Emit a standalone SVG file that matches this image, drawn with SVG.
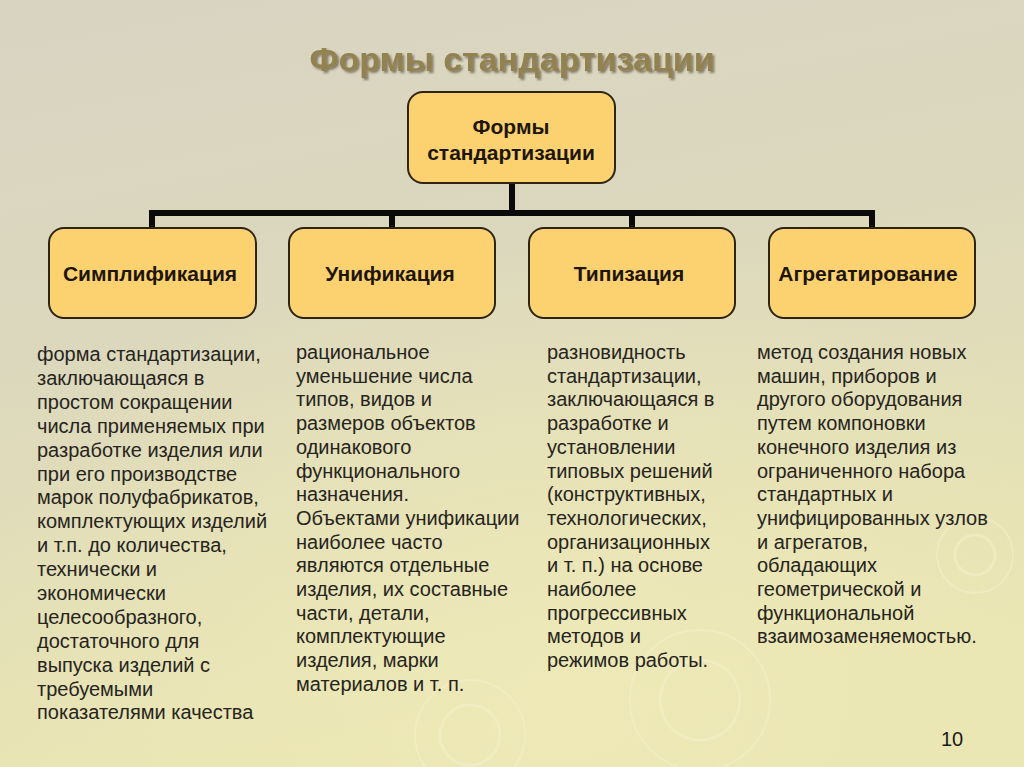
<svg xmlns="http://www.w3.org/2000/svg" width="1024" height="767" viewBox="0 0 1024 767">
<defs>
<linearGradient id="bg" x1="0" y1="0" x2="0.25" y2="1">
<stop offset="0" stop-color="#d8d4c2"/>
<stop offset="0.45" stop-color="#dcd8bd"/>
<stop offset="1" stop-color="#e9e5b2"/>
</linearGradient>
<radialGradient id="glow" cx="0.55" cy="0.9" r="0.6">
<stop offset="0" stop-color="#efeab8" stop-opacity="0.8"/>
<stop offset="1" stop-color="#efeab8" stop-opacity="0"/>
</radialGradient>
<filter id="sh" x="-5%" y="-20%" width="110%" height="150%">
<feDropShadow dx="2" dy="2" stdDeviation="1" flood-color="#3a3320" flood-opacity="0.55"/>
</filter>
</defs>
<style>
.box{fill:#fcd271;stroke:#2e2412;stroke-width:2}
.bt{font-family:"Liberation Sans",Arial,sans-serif;font-weight:bold;font-size:21px;fill:#1e160c;text-anchor:middle}
.dt{font-family:"Liberation Sans",Arial,sans-serif;font-size:20px;fill:#262420}
.ln{stroke:#0a0a0a;stroke-width:6;fill:none}
.rip{fill:none;stroke:#f3efc8;stroke-opacity:0.6}
</style>
<rect width="1024" height="767" fill="url(#bg)"/>
<rect width="1024" height="767" fill="url(#glow)"/>
<g id="ripples">
<circle class="rip" cx="470" cy="735" r="30" stroke-width="3"/>
<circle class="rip" cx="470" cy="735" r="55" stroke-width="2"/>
<circle class="rip" cx="700" cy="700" r="40" stroke-width="3"/>
<circle class="rip" cx="700" cy="700" r="70" stroke-width="2"/>
<circle class="rip" cx="975" cy="555" r="20" stroke-width="3"/>
<circle class="rip" cx="975" cy="555" r="38" stroke-width="2"/>
</g>
<text x="512" y="71" font-family="Liberation Sans,Arial,sans-serif" font-weight="bold" font-size="34" fill="#928250" text-anchor="middle" filter="url(#sh)">Формы стандартизации</text>
<g id="connectors">
<path class="ln" d="M512 183 V213 M149 213 H875 M152 213 V228 M392 213 V228 M632 213 V228 M872 213 V228"/>
</g>
<g id="root">
<rect class="box" x="408" y="92" width="207" height="91" rx="15"/>
<text class="bt" x="511" y="134">Формы</text>
<text class="bt" x="511" y="160">стандартизации</text>
</g>
<g id="n1">
<rect class="box" x="49" y="228" width="207" height="90" rx="15"/>
<text class="bt" x="150" y="281">Симплификация</text>
</g>
<g id="n2">
<rect class="box" x="289" y="228" width="206" height="90" rx="15"/>
<text class="bt" x="390" y="281">Унификация</text>
</g>
<g id="n3">
<rect class="box" x="529" y="228" width="206" height="90" rx="15"/>
<text class="bt" x="629" y="281">Типизация</text>
</g>
<g id="n4">
<rect class="box" x="769" y="228" width="206" height="90" rx="15"/>
<text class="bt" x="868" y="281">Агрегатирование</text>
</g>
<g id="d1">
<text class="dt" x="37" y="361">
<tspan x="37" dy="0">форма стандартизации,</tspan>
<tspan x="37" dy="23.9">заключающаяся в</tspan>
<tspan x="37" dy="23.9">простом сокращении</tspan>
<tspan x="37" dy="23.9">числа применяемых при</tspan>
<tspan x="37" dy="23.9">разработке изделия или</tspan>
<tspan x="37" dy="23.9">при его производстве</tspan>
<tspan x="37" dy="23.9">марок полуфабрикатов,</tspan>
<tspan x="37" dy="23.9">комплектующих изделий</tspan>
<tspan x="37" dy="23.9">и т.п. до количества,</tspan>
<tspan x="37" dy="23.9">технически и</tspan>
<tspan x="37" dy="23.9">экономически</tspan>
<tspan x="37" dy="23.9">целесообразного,</tspan>
<tspan x="37" dy="23.9">достаточного для</tspan>
<tspan x="37" dy="23.9">выпуска изделий с</tspan>
<tspan x="37" dy="23.9">требуемыми</tspan>
<tspan x="37" dy="23.9">показателями качества</tspan>
</text>
</g>
<g id="d2">
<text class="dt" x="296" y="359">
<tspan x="296" dy="0">рациональное</tspan>
<tspan x="296" dy="23.7">уменьшение числа</tspan>
<tspan x="296" dy="23.7">типов, видов и</tspan>
<tspan x="296" dy="23.7">размеров объектов</tspan>
<tspan x="296" dy="23.7">одинакового</tspan>
<tspan x="296" dy="23.7">функционального</tspan>
<tspan x="296" dy="23.7">назначения.</tspan>
<tspan x="296" dy="23.7">Объектами унификации</tspan>
<tspan x="296" dy="23.7">наиболее часто</tspan>
<tspan x="296" dy="23.7">являются отдельные</tspan>
<tspan x="296" dy="23.7">изделия, их составные</tspan>
<tspan x="296" dy="23.7">части, детали,</tspan>
<tspan x="296" dy="23.7">комплектующие</tspan>
<tspan x="296" dy="23.7">изделия, марки</tspan>
<tspan x="296" dy="23.7">материалов и т. п.</tspan>
</text>
</g>
<g id="d3">
<text class="dt" x="547" y="359">
<tspan x="547" dy="0">разновидность</tspan>
<tspan x="547" dy="23.7">стандартизации,</tspan>
<tspan x="547" dy="23.7">заключающаяся в</tspan>
<tspan x="547" dy="23.7">разработке и</tspan>
<tspan x="547" dy="23.7">установлении</tspan>
<tspan x="547" dy="23.7">типовых решений</tspan>
<tspan x="547" dy="23.7">(конструктивных,</tspan>
<tspan x="547" dy="23.7">технологических,</tspan>
<tspan x="547" dy="23.7">организационных</tspan>
<tspan x="547" dy="23.7">и т. п.) на основе</tspan>
<tspan x="547" dy="23.7">наиболее</tspan>
<tspan x="547" dy="23.7">прогрессивных</tspan>
<tspan x="547" dy="23.7">методов и</tspan>
<tspan x="547" dy="23.7">режимов работы.</tspan>
</text>
</g>
<g id="d4">
<text class="dt" x="757" y="359">
<tspan x="757" dy="0">метод создания новых</tspan>
<tspan x="757" dy="23.7">машин, приборов и</tspan>
<tspan x="757" dy="23.7">другого оборудования</tspan>
<tspan x="757" dy="23.7">путем компоновки</tspan>
<tspan x="757" dy="23.7">конечного изделия из</tspan>
<tspan x="757" dy="23.7">ограниченного набора</tspan>
<tspan x="757" dy="23.7">стандартных и</tspan>
<tspan x="757" dy="23.7">унифицированных узлов</tspan>
<tspan x="757" dy="23.7">и агрегатов,</tspan>
<tspan x="757" dy="23.7">обладающих</tspan>
<tspan x="757" dy="23.7">геометрической и</tspan>
<tspan x="757" dy="23.7">функциональной</tspan>
<tspan x="757" dy="23.7">взаимозаменяемостью.</tspan>
</text>
</g>
<text x="952" y="746" font-family="Liberation Sans,Arial,sans-serif" font-size="20" fill="#1a1a1a" text-anchor="middle">10</text>
</svg>
